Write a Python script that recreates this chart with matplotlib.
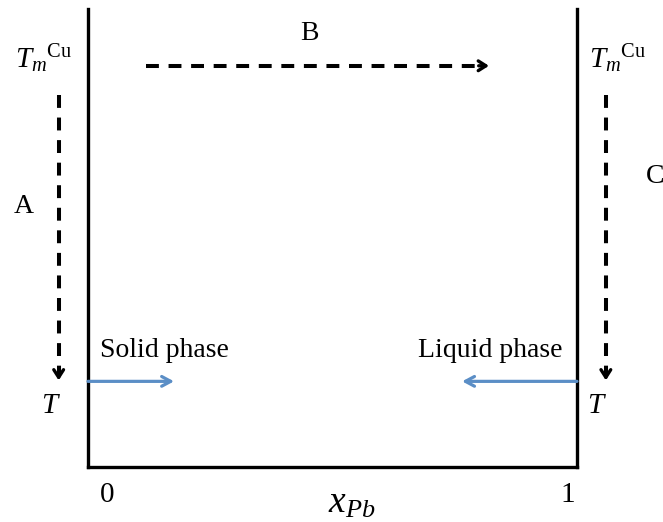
import matplotlib
matplotlib.use("Agg")
import matplotlib.pyplot as plt

plt.rcParams['font.family'] = ['Liberation Serif', 'DejaVu Serif']
plt.rcParams['mathtext.fontset'] = 'custom'
plt.rcParams['mathtext.rm'] = 'Liberation Serif'
plt.rcParams['mathtext.it'] = 'Liberation Serif:italic'

# composition ends and reduced temperature levels
x_ends = [0, 1]
x_labels = ['0', '1']
t_melt = 0.870      # melting point of Cu (label baseline)
t_low = 0.187       # working temperature T
# cooling paths A and C (x, y from, y to), transfer path B (y, x from, x to)
path_a = (-0.060, 0.813, 0.189)
path_c = (1.059, 0.813, 0.189)
path_b = (0.876, 0.118, 0.820)
# phase arrows: start and end composition
solid_arrow = (0.0, 0.176)
liquid_arrow = (1.0, 0.765)
blue = '#5b8ec6'

fig = plt.figure(figsize=(6.63, 5.22), dpi=100)
ax = fig.add_axes([88/663, 55/522, 489/663, 458/522])
ax.set_xlim(0, 1)
ax.set_ylim(0, 1)
ax.spines['top'].set_visible(False)
for s in ['left', 'bottom', 'right']:
    ax.spines[s].set_linewidth(2.4)
ax.set_xticks([])
ax.set_yticks([])


def dashed_arrow(x0, y0, x1, y1):
    dx = (x1 - x0) * 0.015
    dy = (y1 - y0) * 0.015
    ax.plot([x0, x1 - dx], [y0, y1 - dy], color='black', lw=2.9,
            ls=(0, (3.2, 2.4)), clip_on=False, dash_capstyle='butt')
    ax.annotate('', xy=(x1, y1), xytext=(x1 - 2 * dx, y1 - 2 * dy),
                arrowprops=dict(arrowstyle='->,head_length=0.55,head_width=0.35',
                                color='black', lw=2.4, shrinkA=0, shrinkB=0),
                annotation_clip=False)


dashed_arrow(path_a[0], path_a[1], path_a[0], path_a[2])
dashed_arrow(path_c[0], path_c[1], path_c[0], path_c[2])
dashed_arrow(path_b[1], path_b[0], path_b[2], path_b[0])

for start, end in [solid_arrow, liquid_arrow]:
    ax.annotate('', xy=(end, t_low), xytext=(start, t_low),
                arrowprops=dict(arrowstyle='->,head_length=0.65,head_width=0.35',
                                color=blue, lw=2.3, shrinkA=0, shrinkB=0),
                annotation_clip=False)

tm = r'$T_m{}^{\mathrm{Cu}}$'
ax.text(-0.149, t_melt, tm, fontsize=21, ha='left', va='baseline')
ax.text(1.024, t_melt, tm, fontsize=21, ha='left', va='baseline')
ax.text(-0.076, 0.117, r'$T$', fontsize=21, ha='center', va='baseline')
ax.text(1.041, 0.117, r'$T$', fontsize=21, ha='center', va='baseline')

ax.text(-0.131, 0.554, 'A', fontsize=20, ha='center', va='baseline')
ax.text(1.141, 0.620, 'C', fontsize=20, ha='left', va='baseline')
ax.text(0.453, 0.933, 'B', fontsize=20, ha='center', va='baseline')

ax.text(0.0245, 0.241, 'Solid phase', fontsize=20, ha='left', va='baseline')
ax.text(0.971, 0.241, 'Liquid phase', fontsize=20, ha='right', va='baseline')

for x, lab in zip(x_ends, x_labels):
    ax.text(x + (0.039 if x == 0 else -0.018), -0.076, lab, fontsize=21,
            ha='center', va='baseline')
ax.text(0.539, -0.100, r'$x_{Pb}$', fontsize=27, ha='center', va='baseline')

fig.savefig('out.png', dpi=100)
